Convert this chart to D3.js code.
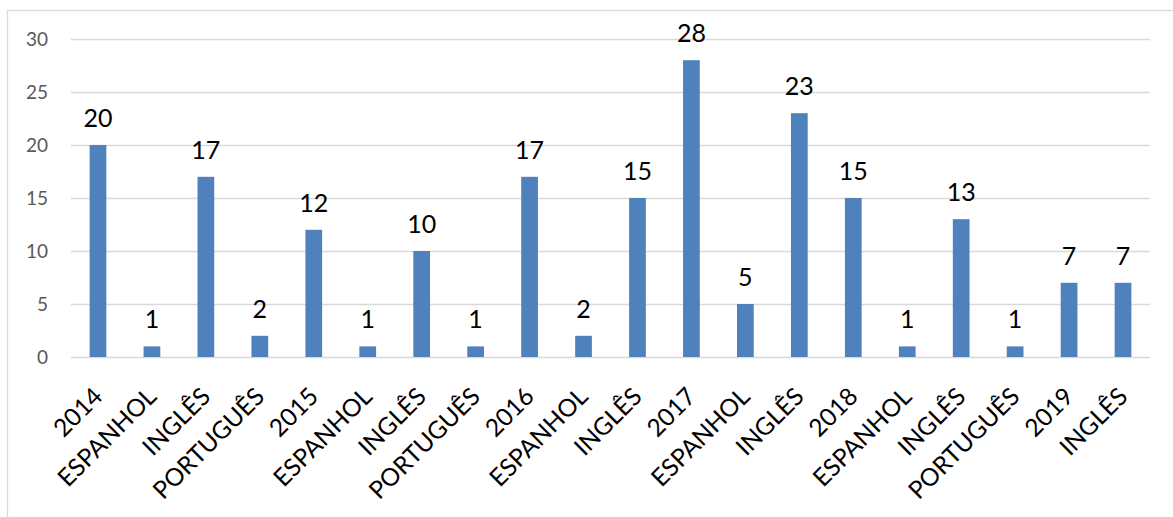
<!DOCTYPE html>
<html>
<head>
<meta charset="utf-8">
<script src="https://cdn.jsdelivr.net/npm/d3@7"></script>
<style>
  body { margin: 0; background: #fff; }
  svg { display: block; }
</style>
</head>
<body>
<svg></svg>
<script>
const categories = ['2014', 'ESPANHOL', 'INGLÊS', 'PORTUGUÊS', '2015', 'ESPANHOL', 'INGLÊS', 'PORTUGUÊS',
    '2016', 'ESPANHOL', 'INGLÊS', '2017', 'ESPANHOL', 'INGLÊS', '2018', 'ESPANHOL', 'INGLÊS',
    'PORTUGUÊS', '2019', 'INGLÊS'];
const values = [20, 1, 17, 2, 12, 1, 10, 1, 17, 2, 15, 28, 5, 23, 15, 1, 13, 1, 7, 7];
const yTicks = [0, 5, 10, 15, 20, 25, 30];

let width = 1173;
let height = 517;
let plotLeft = 71;
let plotRight = 1150;
let plotTop = 39;
let plotBottom = 357;

let svg = d3.select('svg')
            .attr('width', width)
            .attr('height', height);

// chart frame
svg.append('rect')
    .attr('x', 7.5)
    .attr('y', 10.5)
    .attr('width', width)
    .attr('height', height)
    .attr('fill', 'none')
    .attr('stroke', '#d9d9d9')
    .attr('stroke-width', 1.3);

const idx = categories.map((d, i) => i);

let xScale = d3.scaleBand()
                .domain(idx)
                .range([plotLeft, plotRight])
                .paddingInner(0.69)
                .paddingOuter(0.345);

let yScale = d3.scaleLinear()
                .domain([0, 30])
                .range([plotBottom, plotTop]);

// gridlines
let yAxis = d3.axisLeft(yScale)
                .tickValues(yTicks)
                .tickSize(-(plotRight - plotLeft))
                .tickPadding(23);

let y_axis = svg.append('g')
                .attr('transform', `translate(${plotLeft}, 0)`)
                .call(yAxis);

y_axis.select('.domain').remove();
y_axis.selectAll('line')
    .attr('stroke', '#d9d9d9')
    .attr('stroke-width', 1.3);
y_axis.selectAll('text')
    .attr('fill', '#595959')
    .style('font-family', 'Lato, sans-serif')
    .style('font-size', '19px');

// bars
svg.append('g')
    .selectAll('rect')
    .data(idx)
    .join('rect')
    .attr('x', i => xScale(i))
    .attr('y', i => yScale(values[i]))
    .attr('width', xScale.bandwidth())
    .attr('height', i => yScale(0) - yScale(values[i]))
    .attr('fill', '#4f81bd');

// data labels
svg.append('g')
    .selectAll('text')
    .data(idx)
    .join('text')
    .attr('x', i => xScale(i) + xScale.bandwidth() / 2)
    .attr('y', i => yScale(values[i]) - 18)
    .attr('text-anchor', 'middle')
    .style('font-family', 'Lato, sans-serif')
    .style('font-size', '25px')
    .attr('fill', '#000')
    .text(i => values[i]);

// category labels, rotated
svg.append('g')
    .selectAll('text')
    .data(idx)
    .join('text')
    .attr('transform', i => `translate(${xScale(i) + xScale.bandwidth() / 2 + 6}, 398) rotate(-45)`)
    .attr('text-anchor', 'end')
    .style('font-family', 'Lato, sans-serif')
    .style('font-size', '24.5px')
    .attr('fill', '#000')
    .text(i => categories[i]);
</script>
</body>
</html>
